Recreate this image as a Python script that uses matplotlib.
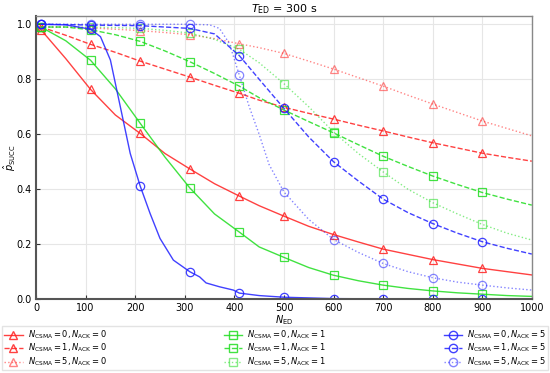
import matplotlib
matplotlib.use("Agg")
import matplotlib.pyplot as plt

# curve sample positions (N_ED)
x_grid = [10, 60, 110, 160, 210, 260, 310, 360, 410, 450, 500, 550, 600, 650, 700, 750, 800, 850, 900, 950, 1000]
# marker positions
x_mark = [10, 110, 210, 310, 410, 500, 600, 700, 800, 900]

# N_ACK = 0
red_0 = [0.98, 0.875, 0.763, 0.67, 0.603, 0.53, 0.474, 0.42, 0.375, 0.34, 0.302, 0.265, 0.235, 0.208, 0.182, 0.163, 0.144, 0.128, 0.112, 0.10, 0.088]
red_1 = [0.99, 0.96, 0.927, 0.898, 0.866, 0.837, 0.808, 0.778, 0.749, 0.724, 0.698, 0.676, 0.655, 0.633, 0.612, 0.59, 0.569, 0.55, 0.531, 0.516, 0.502]
red_5 = [0.99, 0.99, 0.987, 0.982, 0.977, 0.97, 0.962, 0.948, 0.929, 0.915, 0.894, 0.866, 0.837, 0.806, 0.775, 0.742, 0.71, 0.679, 0.648, 0.621, 0.594]

# N_ACK = 1
green_0 = [0.99, 0.94, 0.869, 0.765, 0.64, 0.517, 0.405, 0.31, 0.244, 0.19, 0.152, 0.115, 0.087, 0.067, 0.051, 0.039, 0.03, 0.023, 0.018, 0.013, 0.01]
green_1 = [0.99, 0.99, 0.98, 0.962, 0.938, 0.903, 0.864, 0.821, 0.775, 0.733, 0.688, 0.646, 0.605, 0.562, 0.52, 0.483, 0.448, 0.417, 0.388, 0.364, 0.342]
green_5 = [0.99, 0.99, 0.99, 0.988, 0.985, 0.978, 0.968, 0.945, 0.909, 0.86, 0.784, 0.70, 0.608, 0.53, 0.463, 0.40, 0.351, 0.31, 0.272, 0.24, 0.215]

# N_ACK = 5
blue_1 = [1.0, 0.999, 0.997, 0.996, 0.995, 0.99, 0.985, 0.965, 0.886, 0.80, 0.694, 0.59, 0.50, 0.43, 0.364, 0.315, 0.275, 0.24, 0.209, 0.185, 0.164]

# steeper curves need finer sampling
x_blue_0 = [10, 60, 110, 130, 150, 170, 190, 210, 230, 250, 277, 310, 330, 343, 370, 398, 410, 450, 500, 600, 700, 800, 900, 1000]
blue_0 = [1.0, 0.998, 0.982, 0.955, 0.87, 0.70, 0.53, 0.412, 0.312, 0.221, 0.142, 0.10, 0.081, 0.059, 0.045, 0.033, 0.022, 0.013, 0.007, 0.002, 0.001, 0.0, 0.0, 0.0]
x_blue_5 = [10, 110, 210, 310, 350, 370, 390, 410, 430, 450, 470, 500, 550, 600, 650, 700, 750, 800, 850, 900, 950, 1000]
blue_5 = [1.0, 1.0, 1.0, 1.0, 0.998, 0.985, 0.93, 0.815, 0.70, 0.60, 0.49, 0.39, 0.29, 0.217, 0.17, 0.13, 0.10, 0.078, 0.062, 0.051, 0.041, 0.033]

labels_csma = [0, 1, 5]
styles = ['-', '--', ':']

series = [
    ('#ff2020', '^', 0, [(x_grid, red_0), (x_grid, red_1), (x_grid, red_5)]),
    ('#20dd20', 's', 1, [(x_grid, green_0), (x_grid, green_1), (x_grid, green_5)]),
    ('#2020ff', 'o', 5, [(x_blue_0, blue_0), (x_grid, blue_1), (x_blue_5, blue_5)]),
]

fig = plt.figure(figsize=(5.5, 3.73), dpi=100)
ax = fig.add_axes([0.0655, 0.198, 0.9015, 0.759])

for color, marker, nack, curves in series:
    for (xs, ys), csma, ls in zip(curves, labels_csma, styles):
        alpha = 0.55 if ls == ':' else 0.85
        ax.plot(xs, ys, ls, color=color, lw=1.0, alpha=alpha)
        # markers sit on the curve at the marker positions
        ym = [ys[xs.index(x)] if x in xs else None for x in x_mark]
        xm = [x for x, y in zip(x_mark, ym) if y is not None]
        ym = [y for y in ym if y is not None]
        ax.plot(xm, ym, linestyle='none', marker=marker, ms=6, mfc='none',
                mec=color, mew=0.9, alpha=alpha)
        ax.plot([], [], ls, color=color, lw=1.0, marker=marker, ms=6, mfc='none',
                mec=color, alpha=alpha,
                label=r'$N_\mathrm{CSMA} = %d, N_\mathrm{ACK} = %d$' % (csma, nack))

ax.set_xlim(0, 1000)
ax.set_ylim(0, 1.03)
ax.set_xticks(range(0, 1001, 100))
ax.set_yticks([0, 0.2, 0.4, 0.6, 0.8, 1.0])
ax.set_yticklabels(['0.0', '0.2', '0.4', '0.6', '0.8', '1.0'])
ax.tick_params(labelsize=7, direction='in', length=3, color='#333333', pad=3)
ax.grid(True, color='#e6e6e6', lw=0.8)
ax.set_axisbelow(True)
for s in ax.spines.values():
    s.set_color('#888888')
    s.set_linewidth(1.0)
ax.spines['bottom'].set_color('#555555')
ax.spines['bottom'].set_linewidth(1.5)
ax.spines['left'].set_color('#555555')
ax.spines['left'].set_linewidth(1.5)

ax.set_title(r'$T_\mathrm{ED}$ = 300 s', fontsize=8, pad=2)
ax.set_xlabel(r'$N_\mathrm{ED}$', fontsize=7, labelpad=0)
ax.set_ylabel(r'$\hat{p}_\mathrm{SUCC}$', fontsize=7)
ax.yaxis.set_label_coords(-0.037, 0.5)

handles, labels = ax.get_legend_handles_labels()
fig.legend(handles, labels, loc='lower left', bbox_to_anchor=(0.004, 0.008, 0.992, 0.1),
           mode='expand', ncol=3, fontsize=6, frameon=True, edgecolor='#dddddd',
           fancybox=False, handlelength=2.2, handleheight=0.6, borderaxespad=0,
           labelspacing=0.12, handletextpad=0.6, borderpad=0.25)

fig.savefig('out.png', dpi=100)
